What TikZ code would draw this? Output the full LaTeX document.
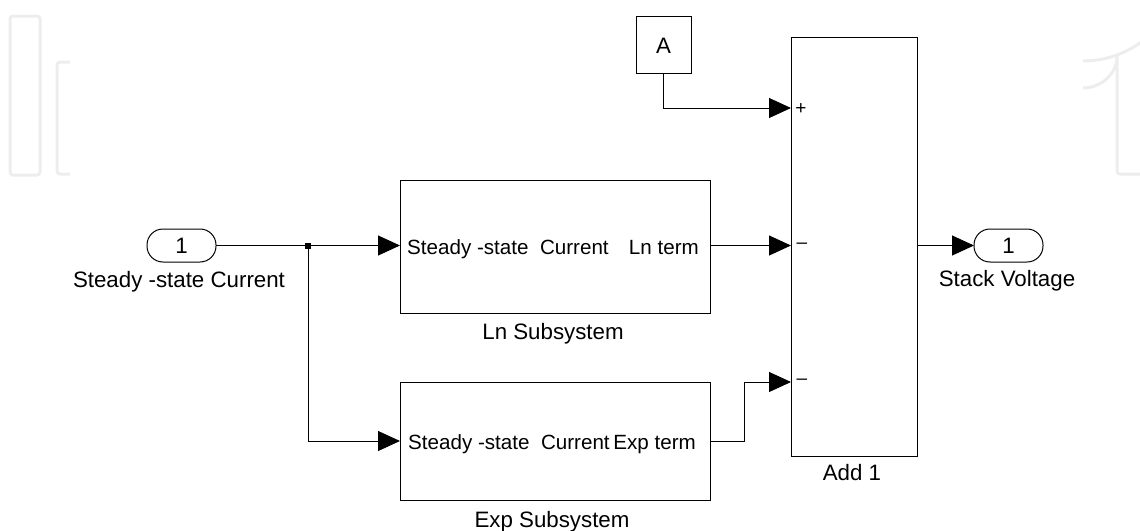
\documentclass[tikz,border=0pt]{standalone}
\usepackage{fontspec}
\setmainfont{Liberation Sans}
\usetikzlibrary{arrows.meta}
\begin{document}
\begin{tikzpicture}[x=1pt,y=-1pt,
  blk/.style={draw, line width=1pt, inner sep=0pt, outer sep=0pt},
  port/.style={draw, line width=1pt, rounded corners=16pt, minimum width=69pt, minimum height=33pt, inner sep=0pt, outer sep=0pt},
  lbl/.style={font=\fontsize{22.3}{26}\selectfont, inner sep=0pt},
  intxt/.style={font=\fontsize{20.6}{24}\selectfont, inner sep=0pt},
  sgn/.style={font=\fontsize{19}{22}\selectfont, inner sep=0pt},
  wire/.style={line width=1pt},
  sig/.style={line width=1pt, -{Triangle[length=22pt,width=20pt]}},
  wm/.style={draw=black!7, line width=3pt, rounded corners=3pt}
]
\useasboundingbox (0,0) rectangle (1140,530);
% watermark
\draw[wm] (10,16) rectangle (40,175);
\draw[wm] (70,62) -- (57,62) -- (57,174) -- (70,174);
\draw[draw=black!7, line width=3pt] (1083,61) arc[start angle=90, end angle=20, radius=99];
\draw[wm] (1083,88) arc[start angle=90, end angle=0, radius=34] -- (1117,174) -- (1145,174);
% blocks
\node[port] (in) at (181.5,245.5) {};
\node[lbl, anchor=base] (inN) at (181.5,253) {1};
\node[lbl, anchor=base] (inL) at (179,287) {Steady -state Current};
\node[blk, minimum width=310pt, minimum height=133pt] (ln) at (555,246.5) {};
\node[intxt, anchor=base west] (lnI) at (407,254) {Steady -state\ \ Current};
\node[intxt, anchor=base east] (lnO) at (699,254) {Ln term};
\node[lbl, anchor=base] (lnL) at (553,339) {Ln Subsystem};
\node[blk, minimum width=310pt, minimum height=118pt] (exp) at (555,441) {};
\node[intxt, anchor=base west] (exI) at (408,449) {Steady -state\ \ Current};
\node[intxt, anchor=base east] (exO) at (696,449) {Exp term};
\node[lbl, anchor=base] (exL) at (552,527) {Exp Subsystem};
\node[blk, minimum width=55pt, minimum height=57pt] (A) at (663.5,44.5) {};
\node[lbl, anchor=base] (AT) at (663.5,53) {A};
\node[blk, minimum width=126pt, minimum height=419pt] (add) at (854,246.5) {};
\node[lbl, anchor=base] (addL) at (852,480) {Add 1};
\node[sgn] (p1) at (801,109) {+};
\node[sgn] (m2) at (802,246) {\textendash};
\node[sgn] (m3) at (802,382) {\textendash};
\node[port] (out) at (1008.5,245.5) {};
\node[lbl, anchor=base] (outN) at (1008.5,253) {1};
\node[lbl, anchor=base] (outL) at (1007,286) {Stack Voltage};
% connectors
\coordinate (br) at (308,245.5);
\coordinate (a1) at (791,108);
\coordinate (a3) at (791,382);
\coordinate (j3) at (744,441);
\draw[wire] (in.east) -- (br);
\fill (br) ++(-3,-3) rectangle ++(6,6);
\draw[sig] (br) -- (br -| ln.west);
\draw[sig] (br) |- (exp.west);
\draw[sig] (br -| ln.east) -- (br -| add.west);
\draw[sig] (exp.east) -- (j3) |- (a3);
\draw[sig] (A.south) |- (a1);
\draw[sig] (br -| add.east) -- (out.west);
\end{tikzpicture}
\end{document}
